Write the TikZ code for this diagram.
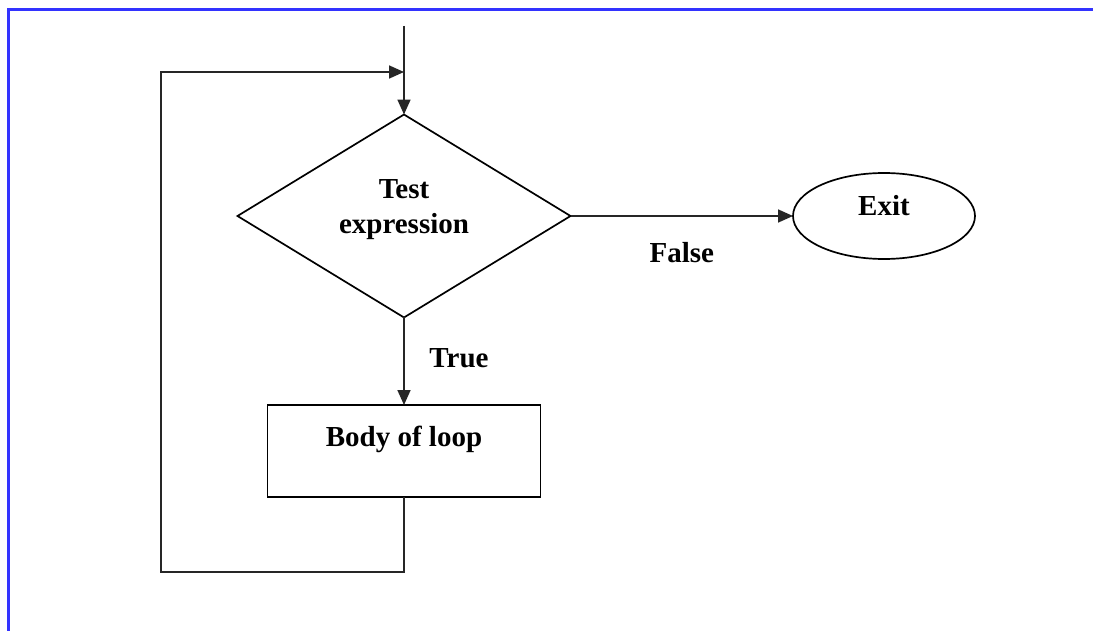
\documentclass[tikz,border=0pt]{standalone}
\usepackage{fontspec}
\setmainfont{Liberation Serif}
\usetikzlibrary{shapes.geometric,arrows.meta}
\begin{document}
\begin{tikzpicture}[x=1pt,y=-1pt,
  conn/.style={line width=1.7pt, draw=black!85},
  arr/.style={conn, -{Triangle[length=15pt,width=13pt]}},
  lbl/.style={font=\fontsize{29}{34}\selectfont\bfseries, inner sep=0pt},
  decision/.style={diamond, draw, line width=1.7pt, minimum width=333pt, minimum height=196pt, inner sep=0pt, outer sep=0pt, align=center, font=\fontsize{29}{35}\selectfont\bfseries, text depth=19pt},
  terminal/.style={ellipse, draw, line width=1.7pt, minimum width=182pt, minimum height=86pt, inner sep=0pt, outer sep=0pt, font=\fontsize{29}{34}\selectfont\bfseries, text height=19pt, text depth=19pt},
  process/.style={rectangle, draw, line width=1.7pt, minimum width=273pt, minimum height=92pt, inner sep=0pt, outer sep=0pt, font=\fontsize{29}{34}\selectfont\bfseries, text height=19pt, text depth=29pt}
]
\useasboundingbox (0,0) rectangle (1093,631);
\fill[white] (0,0) rectangle (1093,631);
% blue frame
\draw[line width=3pt, draw={rgb,255:red,51;green,51;blue,255}] (8,631) -- (8,10) -- (1093,10);

\node[decision] (test) at (404,216) {Test\\expression};
\node[terminal] (exit) at (884,216) {Exit};
\node[process] (body) at (404,451) {Body of loop};

\coordinate (entry) at (404,26);
\coordinate (join) at (404,72);
\coordinate (bl) at (161,572);
\coordinate (tl) at (161,72);

\draw[arr] (entry) -- (test.north);
\draw[arr] (test.east) -- node[lbl, midway, yshift=-37pt] (falselbl) {False} (exit.west);
\draw[arr] (test.south) -- node[lbl, midway, xshift=55pt, yshift=3pt] (truelbl) {True} (body.north);
\draw[arr] (body.south) |- (bl) -- (tl) -- (join);
\end{tikzpicture}
\end{document}
